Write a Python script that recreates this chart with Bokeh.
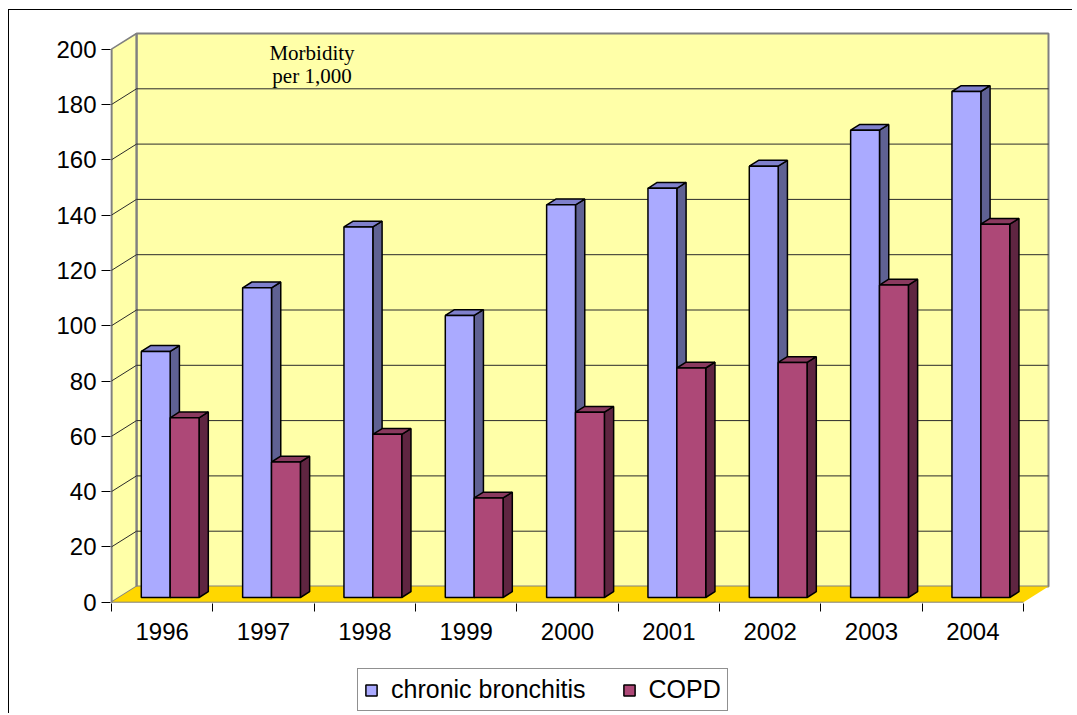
from bokeh.plotting import figure
from bokeh.layouts import column
from bokeh.models import Range1d, FixedTicker, Legend, LegendItem, Label
from bokeh.embed import file_html
from bokeh.resources import INLINE

# ---------------- data ----------------
years = ["1996", "1997", "1998", "1999", "2000", "2001", "2002", "2003", "2004"]
chronic_bronchitis = [89, 112, 134, 102, 142, 148, 156, 169, 183]
copd = [65, 49, 59, 36, 67, 83, 85, 113, 135]
y_ticks = [0, 20, 40, 60, 80, 100, 120, 140, 160, 180, 200]
series_names = ["chronic bronchitis", "COPD"]
title_lines = ["Morbidity", "per 1,000"]

# ---------------- geometry / style ----------------
KX = 912 / 9          # px per category
KY = 2.765            # px per value unit
DX = 25 / KX          # depth offset (categories)
DY = 15.7 / KY        # depth offset (values)
F0 = 0.30             # bar front depth fraction
BD = 0.37             # bar depth fraction
BAR_W = 0.285
GROUP_C = 0.505
n = len(years)
Y_TOP = y_ticks[-1]

FONT = "Liberation Sans"
WALL = "#FFFFA8"
FLOOR = "#FFD700"
EDGE = "#808080"
GRID = "#2A2A2A"
colors = {
    "chronic bronchitis": ("#AAAAFF", "#7F80CC", "#5F6193"),
    "COPD": ("#AD4877", "#8A3A5F", "#5F2541"),
}

W = 1063
p = figure(width=W, height=650, output_backend="svg", toolbar_location=None,
           x_range=Range1d(-1 / KX, 949 / KX),
           y_range=Range1d(-1.3 / KY, 581.7 / KY),
           min_border_left=101, min_border_right=12,
           min_border_top=10, min_border_bottom=57)
p.xgrid.visible = False
p.ygrid.visible = False
p.outline_line_color = None
p.background_fill_color = "white"
p.border_fill_color = "white"

# walls and floor
p.patch([DX, n + DX, n + DX, DX], [DY, DY, Y_TOP + DY, Y_TOP + DY],
        fill_color=WALL, line_color=EDGE, line_width=2)
p.patch([0, DX, DX, 0], [0, DY, Y_TOP + DY, Y_TOP],
        fill_color=WALL, line_color=EDGE, line_width=1.5)
p.patch([0, n, n + DX, DX], [0, 0, DY, DY], fill_color=FLOOR, line_color=None)
p.segment(x0=[0], y0=[0], x1=[n], y1=[0], line_color=EDGE, line_width=1)
p.segment(x0=[0], y0=[0], x1=[0], y1=[Y_TOP], line_color=EDGE, line_width=2)
p.segment(x0=[DX], y0=[DY], x1=[DX], y1=[Y_TOP + DY], line_color=EDGE, line_width=2)

# gridlines (back wall and side wall)
gv = y_ticks[1:-1]
p.segment(x0=[DX] * len(gv), y0=[v + DY for v in gv], x1=[n + DX] * len(gv),
          y1=[v + DY for v in gv], line_color=GRID, line_width=1)
p.segment(x0=[0] * len(gv), y0=gv, x1=[DX] * len(gv), y1=[v + DY for v in gv],
          line_color=GRID, line_width=1)

# bars
for si, (name, vals) in enumerate(zip(series_names, [chronic_bronchitis, copd])):
    fc, tc, sc = colors[name]
    F1 = F0 + BD
    fx, fy, tx, ty, sx, sy = [], [], [], [], [], []
    for i, v in enumerate(vals):
        x0 = i + GROUP_C - BAR_W + si * BAR_W
        x1 = x0 + BAR_W
        fx.append([x0 + F0 * DX, x1 + F0 * DX, x1 + F0 * DX, x0 + F0 * DX])
        fy.append([F0 * DY, F0 * DY, v + F0 * DY, v + F0 * DY])
        tx.append([x0 + F0 * DX, x1 + F0 * DX, x1 + F1 * DX, x0 + F1 * DX])
        ty.append([v + F0 * DY, v + F0 * DY, v + F1 * DY, v + F1 * DY])
        sx.append([x1 + F0 * DX, x1 + F1 * DX, x1 + F1 * DX, x1 + F0 * DX])
        sy.append([F0 * DY, F1 * DY, v + F1 * DY, v + F0 * DY])
    p.patches(sx, sy, fill_color=sc, line_color="black", line_width=1.5)
    p.patches(tx, ty, fill_color=tc, line_color="black", line_width=1.5)
    p.patches(fx, fy, fill_color=fc, line_color="black", line_width=1.5)

# axes
xa = p.xaxis[0]
xa.ticker = FixedTicker(ticks=[i + 0.5 for i in range(n)], minor_ticks=list(range(n + 1)))
xa.major_label_overrides = {i + 0.5: y for i, y in enumerate(years)}
xa.major_tick_out = 0
xa.major_tick_in = 0
xa.minor_tick_out = 8
xa.minor_tick_in = 0
xa.minor_tick_line_color = "black"
xa.axis_line_color = None
xa.major_label_standoff = 11
xa.major_label_text_font = FONT
xa.major_label_text_font_size = "24px"
xa.major_label_text_color = "black"

ya = p.yaxis[0]
ya.ticker = FixedTicker(ticks=y_ticks, minor_ticks=[])
ya.major_tick_out = 9
ya.major_tick_in = 0
ya.minor_tick_out = 0
ya.minor_tick_in = 0
ya.major_tick_line_color = "black"
ya.axis_line_color = None
ya.major_label_standoff = 5
ya.major_label_text_font = FONT
ya.major_label_text_font_size = "24px"
ya.major_label_text_color = "black"

# title
for txt, yv in zip(title_lines, [198.8, 190.4]):
    p.add_layout(Label(x=(311.5 - 111) / KX, y=yv, text=txt, text_align="center",
                       text_baseline="alphabetic", text_font="Liberation Serif",
                       text_font_size="21px", text_color="black"))

# legend strip
q = figure(width=W, height=53, output_backend="svg", toolbar_location=None,
           x_range=Range1d(0, 1), y_range=Range1d(0, 1),
           x_axis_type=None, y_axis_type=None,
           min_border_left=0, min_border_right=0, min_border_top=0, min_border_bottom=0)
q.xgrid.visible = False
q.ygrid.visible = False
q.outline_line_color = None
q.background_fill_color = "white"
q.border_fill_color = "white"
icons = {}
for name in series_names:
    icons[name] = q.patch([-3, -2, -2], [-3, -3, -2], fill_color=colors[name][0],
                          line_color="black", line_width=1.5)
legend = Legend(items=[LegendItem(label=nm, renderers=[icons[nm]]) for nm in series_names],
                location=(247, 2), orientation="horizontal",
                glyph_width=14, glyph_height=14, label_standoff=13, spacing=36,
                padding=6, margin=0,
                label_text_font=FONT, label_text_font_size="25px",
                label_text_color="black",
                border_line_color="#222222", border_line_width=1,
                background_fill_color="white", background_fill_alpha=1)
q.add_layout(legend)

layout = column(p, q, spacing=0)
layout.styles = {"margin-left": "8px", "margin-top": "9px",
                 "border-top": "1px solid #000000", "border-left": "1px solid #000000"}

open("out.html", "w").write(file_html(layout, INLINE))
